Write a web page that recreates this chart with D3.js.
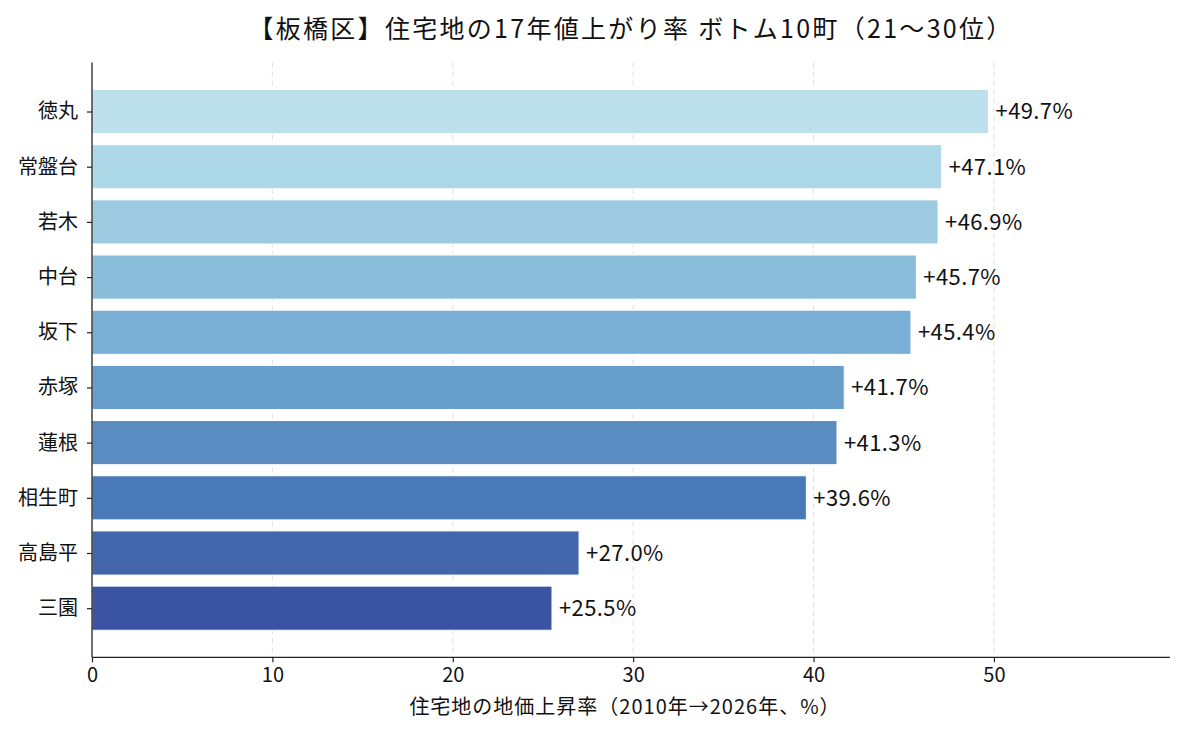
<!DOCTYPE html>
<html><head><meta charset="utf-8">
<script src="https://cdn.jsdelivr.net/npm/d3@7"></script>
<style>
body{margin:0;background:#fff;}
text{font-family:"Noto Sans CJK JP","Noto Sans",sans-serif;fill:#111;}
</style></head>
<body>
<svg id="c" width="1185" height="735"></svg>
<script>
const categories = ["徳丸","常盤台","若木","中台","坂下","赤塚","蓮根","相生町","高島平","三園"];
const values = [49.7,47.1,46.9,45.7,45.4,41.7,41.3,39.6,27.0,25.5];
const colors = ["#bde1ec","#acd8e8","#9dcae1","#8abdda","#7aafd5","#689ecb","#5a8cc1","#4a79b7","#4266ab","#3a54a3"];
const xTicks = [0,10,20,30,40,50];
const title = "【板橋区】住宅地の17年値上がり率 ボトム10町（21〜30位）";
const xLabel = "住宅地の地価上昇率（2010年→2026年、%）";

const svg = d3.select("#c");
const L=92, R=1170, T=62.4, B=657.3;
const x = d3.scaleLinear().domain([0,59.76]).range([L,R]);
const pos = d3.scaleLinear().domain([-0.89, 9.89]).range([T,B]);
const bh = pos(0.4)-pos(-0.4);

// grid
svg.append("g").selectAll("line").data(xTicks.slice(1)).join("line")
  .attr("x1",d=>x(d)).attr("x2",d=>x(d)).attr("y1",T).attr("y2",B)
  .attr("stroke","#d9d9d9").attr("stroke-width",1).attr("stroke-dasharray","5,4").attr("opacity",0.8);

// bars
svg.append("g").selectAll("rect").data(values).join("rect")
  .attr("x",x(0)).attr("y",(d,i)=>pos(i)-bh/2)
  .attr("width",d=>x(d)-x(0)).attr("height",bh)
  .attr("fill",(d,i)=>colors[i]).attr("stroke","#fff").attr("stroke-width",1);

// value labels
svg.append("g").selectAll("text").data(values).join("text")
  .attr("x",d=>x(d)+7).attr("y",(d,i)=>pos(i)).attr("dy","0.36em")
  .attr("font-size",22).attr("letter-spacing",0.4).text(d=>"+"+d.toFixed(1)+"%");

// axes
const xa = svg.append("g").attr("transform",`translate(0,${B})`)
  .call(d3.axisBottom(x).tickValues(xTicks).tickSize(5).tickPadding(6).tickFormat(d3.format("d")));
xa.selectAll("text").attr("font-size",20).style("font-family",'"Noto Sans CJK JP",sans-serif');
xa.select(".domain").attr("stroke","#222").attr("stroke-width",1.3).attr("d",`M${L},0H${R}`);
xa.selectAll(".tick line").attr("stroke","#222").attr("stroke-width",1.2);

const ya = svg.append("g").attr("transform",`translate(${L},0)`)
  .call(d3.axisLeft(pos).tickValues(d3.range(categories.length)).tickSize(5).tickPadding(9).tickFormat(i=>categories[i]));
ya.selectAll("text").attr("font-size",20).style("font-family",'"Noto Sans CJK JP",sans-serif');
ya.select(".domain").attr("stroke","#222").attr("stroke-width",1.3).attr("d",`M0,${T}V${B}`);
ya.selectAll(".tick line").attr("stroke","#222").attr("stroke-width",1.2);

// title
svg.append("text").attr("x",631).attr("y",38).attr("text-anchor","middle")
  .attr("font-size",25).attr("letter-spacing",2.3).text(title);
// x label
svg.append("text").attr("x",625).attr("y",714).attr("text-anchor","middle")
  .attr("font-size",20).attr("letter-spacing",1).text(xLabel);
</script>
</body></html>
